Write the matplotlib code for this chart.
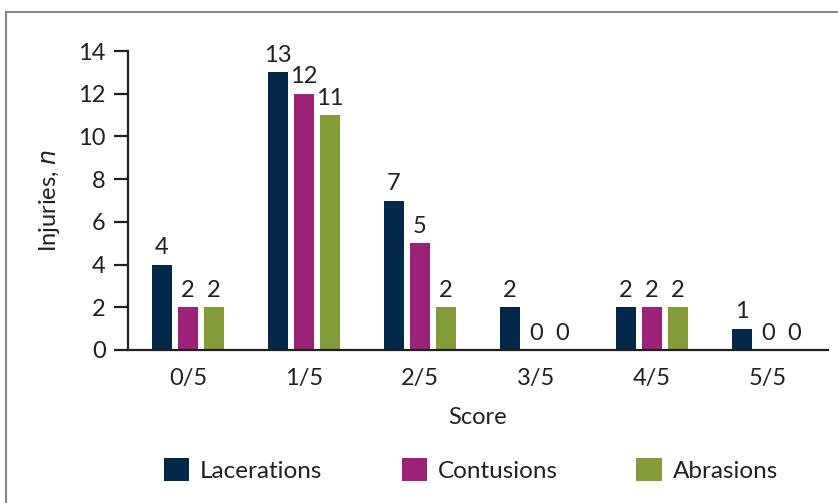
import matplotlib.pyplot as plt
import numpy as np

plt.rcParams['font.family'] = ['Lato', 'DejaVu Sans']
fs = 17

scores = ['0/5', '1/5', '2/5', '3/5', '4/5', '5/5']
lacerations = [4, 13, 7, 2, 2, 1]
contusions = [2, 12, 5, 0, 2, 0]
abrasions = [2, 11, 2, 0, 2, 0]

names = ['Lacerations', 'Contusions', 'Abrasions']
colors = ['#03284a', '#9b2277', '#849b3a']
txt = '#231f20'

fig = plt.figure(figsize=(8.38, 5.03), dpi=100)
ax = fig.add_axes([128 / 838, 1 - 350 / 503, 700 / 838, 299 / 503])

x = np.arange(len(scores))
w = 0.172
off = 0.224
handles = []
for i, (vals, c) in enumerate(zip([lacerations, contusions, abrasions], colors)):
    b = ax.bar(x + (i - 1) * off, vals, w, color=c)
    handles.append(b)
    for xi, v in zip(x + (i - 1) * off, vals):
        ax.text(xi, v + 0.3, str(v), ha='center', va='bottom', fontsize=fs, color=txt)

ax.set_xlim(-0.517, 5.517)
ax.set_ylim(0, 14)
ax.set_yticks(range(0, 15, 2))
ax.set_xticks(x)
ax.set_xticklabels(scores)
ax.spines['top'].set_visible(False)
ax.spines['right'].set_visible(False)
ax.spines['left'].set_linewidth(1.6)
ax.spines['bottom'].set_linewidth(1.6)
ax.spines['left'].set_color(txt)
ax.spines['bottom'].set_color(txt)
ax.tick_params(axis='y', length=10, width=1.6, color=txt, labelsize=fs, labelcolor=txt, pad=6)
ax.tick_params(axis='x', length=0, labelsize=fs, labelcolor=txt, pad=13)

ax.set_ylabel('Injuries, $\\mathit{n}$', fontsize=fs, color=txt, labelpad=12)
ax.set_xlabel('Score', fontsize=fs, color=txt, labelpad=13)

fig.legend(handles, names, loc='center', bbox_to_anchor=(0.562, 1 - 470 / 503), ncol=3,
           frameon=False, fontsize=17.5, handlelength=1.03, handleheight=1.03,
           columnspacing=3.25, handletextpad=0.45, labelcolor=txt)

# frame around the chart (only top and left edges are visible)
fig.add_artist(plt.Line2D([6 / 838, 6 / 838], [0, 1 - 12 / 503], color='#888888', lw=1.5,
                          transform=fig.transFigure))
fig.add_artist(plt.Line2D([6 / 838, 1], [1 - 12 / 503, 1 - 12 / 503], color='#888888', lw=1.5,
                          transform=fig.transFigure))

fig.savefig('out.png', dpi=100)
